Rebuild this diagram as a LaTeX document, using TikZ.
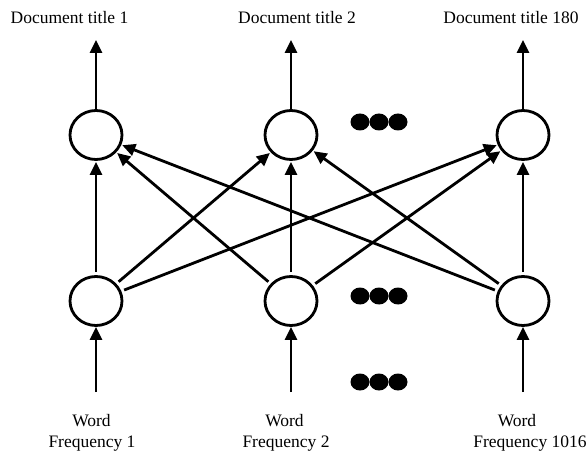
\documentclass[tikz,border=0pt]{standalone}
\usepackage{fontspec}
\setmainfont{Liberation Serif}
\usetikzlibrary{arrows.meta,shapes.geometric}
\tikzset{
  neuron/.style={ellipse,draw,line width=2.8pt,minimum width=52pt,minimum height=49pt,inner sep=0pt},
  dotb/.style={ellipse,fill=black,minimum width=19pt,minimum height=17pt,inner sep=0pt},
  conn/.style={line width=2.8pt,-{Triangle[length=13pt,width=12pt]}},
  lbl/.style={font=\fontsize{17.5}{21}\selectfont,inner sep=0pt,anchor=base},
}
\begin{document}
\begin{tikzpicture}[x=1pt,y=-1pt]
\useasboundingbox (0,0) rectangle (586,454);
% neurons
\node[neuron] (t1) at (96,135) {};
\node[neuron] (t2) at (291,135) {};
\node[neuron] (t3) at (523,135) {};
\node[neuron] (b1) at (96,301) {};
\node[neuron] (b2) at (291,301) {};
\node[neuron] (b3) at (523,301) {};
% dots
\foreach \r/\y in {a/122,b/296,c/382}{
  \node[dotb] (d\r1) at (360,\y) {};
  \node[dotb] (d\r2) at (379,\y) {};
  \node[dotb] (d\r3) at (398,\y) {};
}
% titles
\node[lbl] (o1) at (69.5,24) {Document title 1};
\node[lbl] (o2) at (297,24) {Document title 2};
\node[lbl] (o3) at (511,24) {Document title 180};
\coordinate (oa1) at (96,40);
\coordinate (oa2) at (291,40);
\coordinate (oa3) at (523,40);
% inputs
\node[lbl] (w1) at (91.5,426) {Word};
\node[lbl] (f1) at (92,447) {Frequency 1};
\node[lbl] (w2) at (284.5,426) {Word};
\node[lbl] (f2) at (286,447) {Frequency 2};
\node[lbl] (w3) at (517,426) {Word};
\node[lbl] (f3) at (530,447) {Frequency 1016};
\coordinate (ia1) at (96,392);
\coordinate (ia2) at (291,392);
\coordinate (ia3) at (523,392);
% arrows
\foreach \i in {1,2,3}{
  \draw[conn] (t\i) -- (oa\i);
  \draw[conn] (ia\i) -- (b\i);
  \foreach \j in {1,2,3}{
    \draw[conn,shorten <=3pt,shorten >=1pt] (b\i) -- (t\j);
  }
}
\end{tikzpicture}
\end{document}
